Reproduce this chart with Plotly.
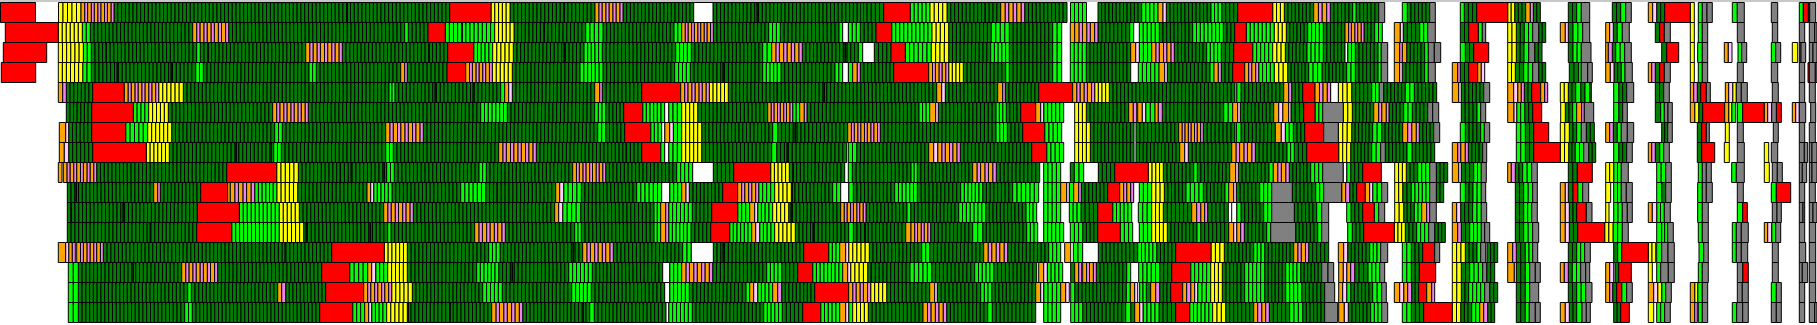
import plotly.graph_objects as go

# Each token: state code + end position of that run on the time axis; "_" is idle time.
ROW_01 = "_0.5 r35.5 _58.5 y81 p114 g449.7 r491 y510 g595 p623 g693.7 n713 g861 l863 g883.7 r910.3 l930 y947 g1000.7 p1024.7 g1067 _1070.5 l1086.5 _1098 g1141.7 l1158 o1163 w1166.3 g1211 l1221.7 g1237.7 r1272.7 y1284.3 g1313.7 p1330.3 g1352.7 l1356 g1378.7 a1384.7 _1402.3 l1407.3 g1429.7 a1435.3 _1460.3 l1464.3 g1476.7 r1507.7 y1514.7 g1525.7 o1530.3 v1533.3 g1540.3 _1568.3 g1576.7 l1581.3 a1589.7 _1612.3 g1620.7 l1625.7 a1631.3 _1648.3 o1652.7 w1656.7 g1664.7 r1690.3 y1694.3 _1698.3 l1702.3 a1707 a1712.3 _1732.3 l1737.3 a1744.3 _1771.3 a1777.7 _1799.3 l1803.3 r1808.3 g1809.7 a1815.7"
ROW_02 = "_5.3 r58.3 y82.3 l90.3 g192.7 p228.7 g404.7 l408.3 g428 r445.3 l494.7 y514 g585.7 l603 g674 l681.7 p713.3 g768.7 l780.3 g839 l842.7 n848.3 l860.3 g876 r891.7 l932 y948.7 g991.3 l1009.3 g1052.7 l1061.7 _1070.3 o1074.7 p1098 g1129.7 l1133.7 _1139.3 l1159.3 g1192.7 l1223.3 g1234.7 r1246.3 l1274.3 y1286.3 g1307.7 l1323.3 g1345 p1364 g1374.7 l1382.3 _1394.3 o1400.3 w1403.3 g1419.7 l1427.7 a1435.3 _1460.3 g1468.7 r1478.3 l1482.3 a1485.7 _1507.7 y1516.3 g1524.3 l1532.7 a1538.7 g1545.7 _1560.3 o1565.3 w1568.3 g1573 l1582.7 a1589.7 _1605.7 o1609.7 w1613.3 g1617.3 l1622.3 a1629.3 _1655.3 g1659.7 r1664.3 a1670.3 _1690.3 y1694.3 _1698.3 l1702.3 a1707.7 _1737.3 a1744.3 _1772.3 a1777.7 _1799.3 a1804.7 _1809.3 a1814.7 a1817"
ROW_03 = "_3.3 r46.7 _58.3 y83.3 l91.3 g196.7 l200.3 g305.7 p342.3 g447.7 r473.7 l492.7 y513.3 g584 l602.3 g675.7 l691.3 g762.7 l771.7 p802.3 g858.3 l862.7 n874.3 g891 r905.3 l931.3 y948.7 g990.7 l1009.3 g1052.7 l1061.7 _1070.3 l1086.3 g1130.7 o1135.7 w1139.3 l1151.7 p1174.3 g1206.7 l1221.3 g1233.7 r1252.7 l1272.7 y1285.3 g1307 l1323.3 g1345 n1347.7 l1355.3 g1378 l1381.3 a1387.7 _1394.3 o1399.7 v1402.3 o1406.7 g1424.7 l1428.3 a1434.3 a1440.7 _1460.3 l1465.3 g1473.7 r1488.7 _1507.7 y1516.3 g1524 l1528.7 a1534.7 g1542 _1568.3 g1573 l1581.3 a1591 _1605.7 o1608.3 v1612.3 g1615.7 l1624.7 a1631.3 _1661.7 g1666.7 r1678.7 _1690.3 y1694.3 _1697.7 l1702.3 a1707.7 _1724.3 o1728.3 w1732 _1738 l1741.7 a1746.7 _1771.3 l1775.7 a1780.7 _1792.3 y1797.7 _1799.3 a1801 a1805.7 _1809.3 a1813 a1817"
ROW_04 = "_1.3 r35.7 _58.3 y82.7 l91.3 g195.7 l203.3 g309 l316.3 g400.7 o404.7 v407.3 g447 r465.7 p492.3 y512.3 g580 l603 g674.7 l690.3 g762.7 l781 g835 l842.7 n848.3 l852.7 o857.3 v860.3 g893.7 r928.7 p948.7 y963.3 g1005.7 l1009.3 g1052.7 l1061.7 _1070.3 l1086.3 g1130.7 _1138.3 l1159 o1164.7 w1167.3 g1210 l1214 o1218.3 v1221.3 g1232.7 r1244.7 p1258.7 l1274.3 y1287.7 g1308.7 l1322 g1346.7 l1355.3 g1378 l1381.3 a1387.7 _1394.3 o1399.7 w1402.3 g1424.7 l1428.3 a1435.3 _1452.3 o1457.7 v1460.3 g1468.7 r1477.7 o1481.3 w1484.7 _1507.7 y1515.3 g1523.7 l1532.7 a1538.7 g1545.7 _1569.3 g1578.7 l1581.3 a1587.7 a1592.3 _1605.7 o1610.3 w1614 g1621.3 l1625 a1632.3 _1648.3 o1651.7 v1655.3 g1659.7 r1664.3 a1670.3 _1690.3 y1694.3 _1698.3 l1702.3 a1707.7 _1737.3 a1743.3 _1771.3 a1777.7 _1799.3 a1804.7 _1808 r1809.3 a1815.3 a1817"
ROW_05 = "_58.3 o62.7 v66.3 g92.7 r124.3 p158.7 y183.3 g389 l395 g500.7 l504.7 o508.7 w512.3 g594.7 o599.7 v602.3 g641.7 r680.7 p709.3 y728.3 g936.7 o941.7 w945.3 g997.7 o1002.7 v1005.3 g1038.7 r1072.7 p1094.7 y1109.3 g1235 n1236.7 l1241 g1283.7 o1288.7 v1291.7 g1302.7 r1315 p1330.7 n1338.3 y1351.7 g1371.7 l1379.3 a1383.7 g1405.3 l1414.3 g1436.7 _1452.3 o1458.7 w1461.3 g1483.7 a1489.7 _1507.7 o1513.7 w1517.7 o1521.3 v1524.3 g1531.7 r1540.7 o1544.7 v1547.7 _1560.3 y1568.3 g1575.7 l1580.7 g1585 l1589.7 g1591.3 _1613.7 l1618.7 g1626.7 a1633.7 _1655.3 g1663.7 a1669.3 _1690.3 o1693.7 v1697.3 g1700.7 r1706.3 a1710.3 _1725.3 o1728.7 w1732.7 y1736.3 a1741.3 a1747.3 _1772.3 a1778.3 _1799.3 a1804.7 _1809.3 a1815.3"
ROW_06 = "_66.3 g91.7 r133.3 l148.7 y168.3 g272.7 p308.3 g480.7 l507.3 g594.7 l605.7 g623.7 r642.7 l664.7 n668.7 l681.7 y697.7 g767.7 p792.7 l799.7 o804.3 v807 g919 l929.7 o935.7 w938.3 g996 l1006.3 g1020.7 r1035.7 o1040.7 w1043.7 l1063.7 _1074.7 y1086.3 g1128.7 o1133.3 v1136.7 _1137.7 o1142.3 w1145.7 l1155 o1158.3 v1162.3 g1223.7 l1232.7 o1237.7 w1240.3 g1273.7 o1278.7 w1282.7 o1288.7 w1291 g1303.7 r1315 l1322.7 a1343.3 y1352.3 g1373.7 o1378.7 v1381.7 o1386.3 v1389 g1403.7 l1412.3 g1427.7 a1432.7 a1438.7 _1461.3 g1477 l1480.7 a1485.7 _1507.7 o1514 w1516.7 l1524.7 g1532.7 r1541.7 _1560.7 y1565.3 g1572.7 l1576.7 o1581.7 v1584.3 a1593.7 _1613.7 l1618.7 g1622.7 a1627.3 _1655.3 g1660.7 l1664.3 a1668 a1672.3 _1690.3 o1694.7 y1698.7 g1702.7 r1724.7 o1728.7 y1731.7 l1735.7 _1737.3 l1742.7 r1764.3 o1767.7 w1771.7 a1776.3 r1781.3 _1792.3 o1795.7 w1799.3 a1805.7 _1810.7 a1815.7"
ROW_07 = "_59.3 o65.7 w68.7 g91.7 r125.7 l147.7 y171.7 g274.7 l282.3 g385.7 p423.3 g597.7 l605.7 g624.7 r650.7 l661.7 n664.7 o669.7 w673.3 l681.7 y701.7 g772.7 l777.7 g847.7 p880.3 g996 l1007.3 g1022.7 r1044.7 l1061.7 _1074.7 y1090.3 g1134 _1136 g1178.7 p1203.3 g1235 n1236.3 l1241 g1275.3 o1281.3 w1285.3 l1293.3 g1304.7 r1323.7 a1338.3 y1351.7 g1372.7 l1381.7 g1402.7 o1407.7 v1411.7 o1416.3 v1419.3 g1433.7 a1439.7 _1460.3 l1465.3 g1480.7 l1484.3 a1489.7 _1516.3 l1525.3 g1533.7 r1548.7 _1560.3 y1569.3 g1576.7 l1581.3 a1586.3 g1594.3 _1605.7 o1609.7 v1613.3 g1617.3 l1621.3 a1627.3 a1633.7 _1661.7 g1667.7 a1672.3 _1697.3 g1701.7 r1706.3 a1709.3 _1725.3 y1729.3 _1737.3 a1743.3 _1773.3 a1778.3 _1799.3 a1804.7 _1809.3 a1815.3"
ROW_08 = "_59.3 o64.3 w68.7 g92.7 r146.3 y169.3 g273.7 l281.3 g385.7 l393.3 g498.7 p536.3 g641.7 r660.7 l664.7 n668.7 l681.7 y701.7 g771.7 l776.7 g846.7 _848.3 l856.7 g928.7 o933.7 w937.7 p960.3 g1031.7 r1046.7 l1063.7 _1074.7 y1090.3 g1134 _1136 g1179.7 o1184.7 w1188.3 g1231.7 p1255.3 g1287 l1294.3 g1306.7 r1338.7 y1350.7 g1371.7 l1380.7 a1385.3 g1407 l1412 g1434.7 _1452.3 o1457.7 v1460.7 o1465.3 v1468.3 g1482.7 a1486.7 _1516.3 l1525.3 g1533.7 r1560.3 y1568.7 g1575.3 l1583.7 a1588.7 g1595.7 _1613.7 l1618.7 g1626.7 a1632.3 _1648.3 o1651.7 v1655.3 g1659.7 l1663.7 a1669.3 _1697.3 g1701.7 r1714.7 _1724.3 y1729.3 _1737.3 a1744.3 _1764.3 y1768.7 _1771.3 a1777.7 _1799.3 a1804.3 a1807.7 _1809.3 a1812 a1817"
ROW_09 = "_58.3 o62 _63.3 p96.7 g226.7 r276.7 y298.3 g386.7 l394.3 g479 l486.3 g572.7 p605.7 g676.7 l692.7 n713.3 g733.7 r770.7 y789.3 g844.7 _848.3 l852.3 g911 l917.3 g972.7 p996.3 g1039.7 _1043.7 l1060.7 _1070.3 g1074.3 l1083.7 n1098.3 g1114.7 r1148.3 y1163.3 g1193.7 l1197.3 g1229.7 o1235.7 w1238.3 g1269 l1273.3 p1289.3 g1310.7 l1322.7 a1343.3 n1346.7 l1350.7 g1362.7 r1381.3 _1394.7 y1406.3 g1417.7 l1429.7 a1436.3 g1447.7 _1452.3 o1458.7 w1461.3 g1473.7 l1481.3 a1486.3 _1507.7 o1511.3 v1515.3 g1522.7 l1531.7 a1537.3 _1568.3 g1577.3 r1592.3 _1605.7 y1613.7 l1621.3 a1628.3 _1656.7 l1665.7 a1671.3 _1698.3 l1702.3 a1706.3 a1711.3 _1731.7 l1736.3 a1744.3 _1764.3 y1769.3 _1772.3 a1777.3 a1782.3 _1799.3 a1802.3 a1806.7 _1809.3 a1812 a1817"
ROW_10 = "_67.3 g153.7 o157.7 v160.3 g200.7 r227.7 o230.3 p254.7 l277 y297.7 g367 o370.7 w373.7 l392 g460.7 l485.7 g555.7 o559.7 w563.7 l581.3 g636.7 l661.7 n669.7 l681.7 o686 w689.3 g722.7 r737.7 p758.7 l774.7 y791.3 g832.7 l840.7 n848.7 l853.3 g894.7 l917.3 g960.7 l982.7 g1012.7 l1038.7 _1043.7 l1060.7 o1066.7 w1069.3 l1073.7 o1078.7 v1081.3 g1107.7 r1119.7 o1123.7 v1126.7 o1130.7 v1133.7 _1139.3 l1151.7 y1164.3 g1186 l1203.3 g1225 l1228.7 o1233.7 w1236.3 g1259.7 l1271.7 a1292.3 g1315.7 l1323.7 a1341.7 o1345.7 v1349.7 g1356.7 r1365.3 o1369.7 w1372.7 l1381.7 a1387.7 _1394.7 y1402.7 g1411.3 l1429.7 a1436.3 g1443.7 _1460.3 l1465.3 g1473 l1481.3 a1485.7 _1515.3 g1523.7 l1532.7 a1537.3 _1560.3 o1565.3 w1568.3 g1573 r1577.7 l1582.7 a1588.7 _1605.7 y1610.7 _1613.7 l1621.3 a1626.3 a1632.3 _1656.7 l1661.7 g1665.7 a1671.3 _1697.7 l1702.3 a1706.3 a1712.3 _1737.3 a1743.3 _1771.3 l1776.3 r1790.7 _1799.3 a1804.7 _1809.3 a1815.3"
ROW_11 = "_67.3 g197.3 r239.3 l279.3 y299.3 g383.7 p413.3 g554.7 o558.7 w562.7 l580.7 g654 l660.7 o665.7 v668.7 l692.3 g711.7 r737.7 l749.7 o754.7 w757.7 l772.7 y788.7 g840.7 p866 g907 l910.7 g958.7 l985.7 g1026 l1036.7 _1043.7 l1060.7 _1069.3 l1081 g1097.7 r1112.7 l1131.7 _1138.3 l1151.7 y1163.3 g1191.7 o1196.7 v1200.7 o1204.7 v1207.7 g1228.3 _1231.7 n1236.7 l1241 g1263.7 l1271.7 a1294.3 g1316.7 l1321.7 a1328.7 _1346.7 l1351 g1362.7 r1374.3 l1378.7 a1384.7 _1394.7 y1403.7 g1414.3 l1421.7 o1426.7 v1429.7 a1436.3 _1452.3 o1456.7 w1460.7 g1472.7 l1481.3 a1486.7 _1515.3 g1523.7 l1531.7 a1537.3 _1560.3 o1565.3 w1569.3 g1576.7 r1586.3 a1592 _1605.7 y1609 _1613.7 l1622.3 a1627.3 a1632.3 _1648.3 o1652.3 w1656.7 l1664.3 a1670.3 _1697.7 l1702.3 a1708.3 _1737.3 l1742.7 r1747.3 _1772.3 a1777 a1781.3 _1799.3 a1803 a1804.7 _1809.3 a1813 a1817"
ROW_12 = "_67.3 g196.7 r231.7 l279.3 y303.7 g387.7 l391 g474.7 p505.3 g574.7 l581.3 g654 l660.7 o665.7 v668.7 l691 g710.7 r729.7 l751.7 o755.7 w759.7 l774.7 y795.3 g848.7 l853.3 g905.7 o911 p930.7 g972.7 l982.7 g1026.7 l1037.7 _1043.7 l1063.7 _1070.3 l1082.7 g1097.7 r1120.3 l1132.7 _1139.3 l1151.7 y1167.3 g1197 l1200.7 g1228.7 o1233.7 w1236.7 o1240.7 v1244.3 g1266.7 l1270.7 a1295.7 g1317.7 l1321.7 a1328.7 _1347.7 l1352.3 g1363.7 r1394.3 y1405.3 g1416.7 l1428.7 a1434.7 g1445.3 _1452.3 o1457.7 v1461.3 g1469.7 l1481.3 a1484.7 a1489.7 _1515.3 g1523.7 l1532.7 a1538.7 _1560.3 o1565.3 w1569.3 g1577.7 r1604.7 y1613 l1622.3 a1628.3 _1656.7 l1661.7 l1667.7 a1673.3 _1698.3 l1702.3 a1708.3 _1732.3 l1736.3 a1741.3 a1748.3 _1764.3 o1767.7 w1771.7 l1775.7 a1780.7 _1799.3 a1804.7 _1809.3 a1815.7"
ROW_13 = "_58.3 o65.7 w68.7 o72.3 v75.3 _76.7 p103.3 g331.7 r384.3 y407.3 g488.7 l500 g582.7 p613.3 g682.7 l691.3 n713.3 g803.7 r828.7 l839.7 o845.7 w848.7 y869.3 g921.7 l929.7 g983.7 p1007.7 g1048.7 l1060.7 _1064.7 o1070.7 _1073.3 l1082.7 n1098.3 g1137.7 l1156.7 g1175.7 r1211 y1224.3 g1253.7 l1264.7 g1293.7 p1308.7 g1328.7 _1338.3 o1343.7 w1347.7 g1369.7 l1380.7 a1387.7 _1402.3 l1411.3 g1422.7 r1434.7 a1439.7 _1452.3 y1465.3 g1477 l1480.7 a1485.7 _1487 g1497.7 _1507.7 o1512.7 v1516.3 g1525.3 l1532.7 a1537.7 _1568.3 g1576.7 l1584.7 a1590.3 _1613.7 g1617.7 l1621.7 r1648.3 y1655.7 _1656.7 l1661.7 a1668 a1674.3 _1699 l1703.7 a1708.3 _1732.3 l1736.3 a1741.3 a1747.7 _1772.3 a1778.3 _1799.3 a1805.7 _1809.3 a1815.7"
ROW_14 = "_68.3 l78.3 g181.7 p217.7 g321.7 r349.7 l367.7 o371.7 w375.7 l387.7 y407.3 g476.7 l498.7 g568.7 l592.3 g662.7 n669.7 l681.7 p712.7 g766.7 l781.7 g797.7 r812.7 l842.7 o847.7 w850.7 y867.7 g910 l931.7 g974.7 l993.7 g1036.7 _1038.7 o1043.7 w1047.3 l1062.7 _1070.7 g1074.7 o1078.7 v1081.7 _1082.7 p1096.3 g1126.7 l1130.7 _1138.7 l1159.7 g1171.7 r1190.7 l1210.7 y1222.3 g1244.7 l1264.7 g1285.7 l1300.7 g1321.7 a1328 a1333.7 _1338.7 o1343.3 w1346.7 o1350.7 v1354.7 g1368 l1379.7 a1384.7 _1402.3 l1411.3 g1419.3 r1435.7 _1452.3 y1461.3 g1469.7 l1482.7 a1486.7 g1494.7 _1507.7 o1514.3 w1516.3 g1525.3 l1529.7 a1535.3 a1540.3 _1560.3 o1564.3 v1568.3 g1572.3 l1580.7 a1585.7 a1589.7 _1605.7 o1609.7 w1613.7 _1615 g1618.7 r1631.3 _1648.3 y1652.3 _1656.7 l1660.7 a1668.3 a1674.3 _1698.3 l1702.3 a1708.3 _1737.3 a1742.7 r1748.3 _1772.3 a1778.3 _1799.3 a1802.3 a1807.7 _1809.3 a1815.7"
ROW_15 = "_68.3 l78.3 g187.7 l191.3 g277.7 o281.7 v285.7 g325.7 r363.7 p391.7 y412.3 g482.7 l502.3 g571.7 l591.3 g664.7 n669.7 l689.3 g746 l749.7 o753.7 w757.7 l772.7 o777.7 v781.7 g814.7 r848.7 p870.7 y886.7 g929.7 o934.7 w937.3 g980.7 l991.7 g1035.7 o1040.7 w1043.7 l1056.7 l1060.7 o1065.7 w1069.3 _1070.7 l1074.7 g1126.3 l1130.3 o1134.7 w1137.7 _1139.7 l1146.3 g1150.7 o1155.7 v1159.7 g1170.7 r1182.7 o1186.7 v1190.7 o1194.7 w1197.7 l1210.7 y1222.3 g1244.7 l1264.7 g1285.7 l1301.7 g1324.7 a1334.7 _1338.7 o1342.7 w1346.7 l1350.7 g1372.7 l1381.7 a1386.3 _1394.3 o1399.7 w1403.7 o1407.7 v1411.7 g1418.7 r1426.7 o1431.7 v1434.7 _1452.3 y1461.3 g1468.7 l1484.7 a1489.7 g1497.7 _1516.3 g1525.3 l1529.7 a1538.7 _1568.3 g1576.7 l1585.7 a1592 _1605.7 o1609.7 v1612.7 g1616.7 r1621.7 l1626.7 a1632.3 _1648.3 o1653.7 w1657.7 y1661.7 l1665.7 a1671.3 _1690.3 o1694.7 y1697.7 l1702.3 a1707.7 _1737.3 a1742.3 a1748.3 _1771.3 l1776.3 a1781.3 _1799.3 a1804.7 _1809.3 a1815.7"
ROW_16 = "_68.3 l78.3 g184.7 l192.3 g319.7 r352.7 l364.7 o368.7 w371.7 l386.7 y407.3 g491.7 p522.7 g589.7 l594.3 g666 n668.7 l692.3 g763.7 l782.3 g802.7 r820.7 l839.7 o845.7 w848.7 l852.7 y868.3 g923 p946.7 g987.7 l992.3 g1035.7 _1043.7 l1060.7 _1070.7 l1082.7 g1125.7 l1130.7 g1134.7 o1139.7 w1143 l1159 g1175.7 r1189.7 l1212.7 y1225.7 g1253.7 o1257.7 v1261.7 o1265.7 v1269.3 g1289.7 l1302.7 g1324.7 a1337.7 _1338.7 o1344.3 w1348.3 g1370.7 l1381.7 a1387.7 _1402.3 l1411.3 g1423.7 r1452.3 y1460.7 g1471.7 l1479.7 o1483.7 v1487.7 g1494.7 _1516.3 g1525.3 l1529.3 a1535.3 a1540.3 _1560.3 o1565.3 w1569.3 g1576.7 l1582 a1586.3 a1590.3 _1613.7 g1620.7 r1629.3 _1648.3 y1653.7 _1656.7 l1664.7 a1670.3 _1690.3 o1694.7 v1697.3 _1698.3 l1702.3 a1707.7 _1732.3 l1736.7 a1742.7 a1748.3 _1771.3 a1776.3 a1781.3 _1799.3 a1804.7 _1809.3 a1814.7 a1817"
ROWS = [ROW_01, ROW_02, ROW_03, ROW_04, ROW_05, ROW_06, ROW_07, ROW_08,
        ROW_09, ROW_10, ROW_11, ROW_12, ROW_13, ROW_14, ROW_15, ROW_16]

# Very short segments that read as thick black ticks: (row index, position).
SHORT_SEGMENTS = [(0, 347), (0, 564), (0, 757), (0, 985), (1, 462), (1, 544), (2, 106), (2, 208),
                  (2, 429), (2, 564), (2, 845), (3, 117), (3, 171), (3, 723), (4, 435), (4, 473),
                  (4, 777), (4, 824), (6, 795), (7, 236), (7, 271), (7, 626), (7, 787), (7, 815),
                  (8, 340), (8, 351), (8, 384), (8, 793), (9, 76), (9, 497), (9, 792), (10, 71),
                  (10, 123), (10, 791), (11, 150), (11, 306), (11, 370), (11, 813), (11, 865),
                  (12, 285), (12, 573), (12, 723), (13, 133), (13, 512), (13, 871), (15, 408),
                  (15, 450), (15, 583)]

COLORS = {"g": "#008000", "l": "#00ff00", "y": "#ffff00", "r": "#ff0000", "o": "#ffa500",
          "v": "#ee82ee", "w": "#ffccff", "a": "#808080", "n": "#ffffff"}
SEGMENT_SPAN = {"g": 3.8, "l": 4.0, "y": 4.1}  # usual segment length inside a run
ORANGE_SHARE = 0.57

bars = {k: {"y": [], "x": [], "base": []} for k in COLORS}


def add(code, row, start, end):
    bars[code]["y"].append(row)
    bars[code]["x"].append(end - start)
    bars[code]["base"].append(start)


for row, text in enumerate(ROWS):
    pos = 0.0
    for token in text.split():
        code, end = token[0], float(token[1:])
        if code == "_":
            pass
        elif code == "p":
            pairs = max(1, round((end - pos) / 7.0))
            step = (end - pos) / pairs
            for i in range(pairs):
                a = pos + i * step
                add("o", row, a, a + step * ORANGE_SHARE)
                add("v", row, a + step * ORANGE_SHARE, a + step)
        elif code in SEGMENT_SPAN:
            n = max(1, round((end - pos) / SEGMENT_SPAN[code]))
            step = (end - pos) / n
            for i in range(n):
                add(code, row, pos + i * step, pos + (i + 1) * step)
        else:
            add(code, row, pos, end)
        pos = end

fig = go.Figure()
for code, color in COLORS.items():
    fig.add_trace(go.Bar(orientation="h", y=bars[code]["y"], x=bars[code]["x"], base=bars[code]["base"],
                         width=1, marker=dict(color=color, line=dict(color="black", width=1)),
                         showlegend=False, hoverinfo="skip"))
fig.add_trace(go.Bar(orientation="h", y=[s[0] for s in SHORT_SEGMENTS], x=[0.4] * len(SHORT_SEGMENTS),
                     base=[s[1] for s in SHORT_SEGMENTS], width=1,
                     marker=dict(color="#008000", line=dict(color="black", width=1)),
                     showlegend=False, hoverinfo="skip"))

fig.update_layout(
    width=1817, height=325, margin=dict(l=0, r=0, t=0, b=0), barmode="overlay",
    plot_bgcolor="white", paper_bgcolor="white", showlegend=False,
    xaxis=dict(range=[0, 1817], visible=False, fixedrange=True),
    yaxis=dict(range=[15.625, -0.625], visible=False, fixedrange=True),
    shapes=[dict(type="rect", xref="paper", yref="paper", x0=0, x1=1, y0=1, y1=0.994,
                 fillcolor="#c8c8c8", line_width=0, layer="above")],
)
fig.write_html("out.html", config={"displayModeBar": False},
               post_script="document.body.style.margin='0';document.body.style.overflow='hidden';")
